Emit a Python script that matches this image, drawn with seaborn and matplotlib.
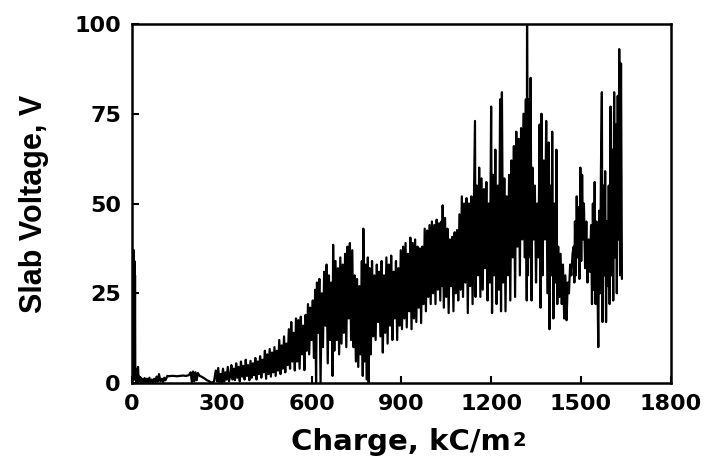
import matplotlib
matplotlib.use("Agg")
import matplotlib.pyplot as plt
import pandas as pd
import seaborn as sns

# values (charge in kC/m2, slab voltage in V)
charge_low = [0, 2, 3, 4, 5, 6, 7, 8, 9, 10,
              11, 12, 14, 16, 18, 20, 22, 24, 26, 28,
              30, 34, 38, 42, 46, 50, 54, 58, 62, 66,
              70, 74, 78, 82, 86, 90, 95, 100, 104, 108,
              112, 118, 124, 130, 140, 150, 160, 170, 180, 190,
              196, 200, 204, 208, 212, 216, 220, 226, 232, 238,
              244, 250, 256, 262, 268, 274,
              280, 284, 288, 292, 296, 300, 304, 308, 312, 316,
              320, 324, 328, 332, 336, 340, 344, 348, 352, 356,
              360, 364, 368, 372, 376, 380, 384, 388, 392, 396,
              400, 404, 408, 412, 416, 420, 424, 428, 432, 436,
              440, 444, 448, 452, 456, 460, 464, 468, 472, 476,
              480, 484, 488, 492, 496, 500, 504, 508, 512, 516,
              520, 524, 528, 532, 536, 540]
volt_low = [0, 37, 1, 36, 2, 37, 1, 34, 2, 30,
            1, 4, 0.5, 1.5, 0.5, 4.5, 1, 1.8, 0.4, 1.6,
            0.3, 1.2, 0.2, 1.4, 0.3, 1.2, 0.2, 1.5, 0.3, 1.0,
            0.2, 1.2, 0.3, 1.8, 0.4, 2.5, 0.5, 1.2, 0.3, 1.5,
            0.8, 2.0, 1.9, 2.0, 2.0, 1.9, 2.0, 2.1, 2.0, 2.2,
            3.0, 0.3, 3.2, 0.5, 3.0, 0.8, 2.8, 2.0, 1.8, 1.5,
            1.2, 0.8, 0.6, 0.3, 0.1, 0.5,
            3.5, 0.5, 4.2, 0.3, 2.5, 0.8, 4.0, 0.4, 3.0, 1.0,
            4.5, 0.5, 2.0, 5.0, 1.0, 4.0, 0.8, 5.5, 1.5, 4.5,
            0.5, 6.0, 1.8, 4.8, 1.0, 6.5, 2.0, 5.0, 0.8, 6.2,
            1.5, 5.5, 2.2, 7.0, 1.0, 6.0, 2.5, 7.5, 1.5, 6.5,
            3.0, 9.0, 1.2, 8.0, 2.5, 9.5, 1.8, 8.5, 3.0, 10.0,
            2.0, 9.0, 3.5, 12.0, 2.5, 10.5, 4.0, 13.0, 3.0, 11.0,
            5.0, 15.0, 4.0, 17.0, 6.0, 14.0]

charge_rise = [544, 548, 552, 556, 560, 564, 568, 572, 576, 580,
               584, 588, 592, 596, 600, 604, 608, 612, 615, 618,
               622, 626, 630, 634, 638, 642, 646, 650, 654, 658,
               662, 666, 670, 672, 676, 680, 684, 688, 692, 696,
               700, 704, 708, 712, 716, 720, 724, 728, 732, 736,
               740, 744, 748, 752, 756, 760, 764, 768, 771, 773,
               776, 780, 784, 788, 791, 794, 798, 802, 806,
               810, 814, 818, 822, 826, 830, 834, 838, 842, 846,
               850, 854, 858, 862, 866, 870, 874, 878, 882, 886,
               890, 894, 898, 902, 906, 910, 914, 918, 922, 926,
               930, 934, 938, 942, 946, 950, 954, 958, 962, 966,
               970, 974, 978, 982, 986, 990, 994, 998, 1002, 1006,
               1010, 1014, 1018, 1022, 1026, 1030, 1034, 1036, 1038, 1042,
               1046, 1050, 1054, 1058, 1062, 1066, 1070, 1074, 1078, 1082,
               1086, 1090, 1094, 1098, 1102, 1106, 1110, 1114, 1118, 1122,
               1126, 1130, 1134, 1138]
volt_rise = [3.5, 18.0, 6.0, 17.5, 4.0, 18.5, 8.0, 16.0, 3.6, 19.0,
             9.0, 22.0, 8.0, 21.0, 12.0, 23.0, 7.0, 26.0, 0.0, 28.0,
             14.0, 29.0, 0.0, 25.0, 10.0, 31.0, 16.0, 33.0, 5.5, 30.0,
             12.0, 28.0, 2.0, 38.5, 9.0, 34.0, 12.0, 32.0, 8.0, 35.0,
             11.0, 33.0, 14.0, 36.0, 10.0, 38.0, 18.0, 39.0, 12.0, 37.0,
             10.0, 30.0, 6.0, 29.0, 4.5, 27.0, 8.0, 34.0, 2.0, 43.0,
             6.0, 33.0, 1.0, 35.0, 0.0, 32.0, 8.0, 34.0, 13.0,
             30.0, 12.0, 33.0, 17.0, 31.0, 13.0, 34.0, 8.5, 30.0, 14.0,
             35.0, 11.0, 33.0, 16.0, 35.5, 12.0, 31.0, 18.0, 34.0, 12.0,
             32.0, 16.0, 37.0, 15.0, 38.0, 18.0, 39.0, 15.5, 36.0, 20.0,
             40.5, 15.0, 39.0, 18.0, 40.0, 17.0, 38.0, 21.0, 37.5, 16.7,
             38.0, 22.0, 43.0, 20.0, 42.5, 24.0, 44.0, 22.0, 45.0, 25.0,
             44.0, 22.0, 45.5, 26.0, 44.5, 23.0, 45.0, 27.0, 49.5, 21.0,
             46.0, 24.0, 43.0, 19.5, 40.0, 27.0, 40.7, 20.0, 42.0, 25.0,
             42.6, 23.0, 47.0, 26.0, 52.0, 24.0, 50.0, 28.0, 51.5, 19.5,
             50.0, 27.0, 52.0, 22.0]

charge_peak = [1142, 1146, 1148, 1152, 1156, 1160, 1164, 1168, 1172, 1176,
               1180, 1184, 1188, 1192, 1196, 1200, 1203, 1206, 1210, 1214,
               1218, 1222, 1226, 1230, 1233, 1236, 1240, 1244, 1248, 1252,
               1256, 1260, 1264, 1268, 1272, 1276, 1280, 1284, 1288, 1292,
               1296, 1300, 1304, 1308, 1312, 1316, 1319, 1320, 1323, 1326,
               1330, 1332, 1335, 1338, 1342, 1346, 1350, 1354, 1358, 1362,
               1365, 1368, 1372, 1376, 1380, 1384, 1388, 1392, 1395, 1398,
               1402, 1404, 1408, 1412, 1416, 1418, 1421]
volt_peak = [48.0, 73.0, 24.0, 55.0, 30.0, 60.0, 24.0, 57.0, 26.0, 54.0,
             32.0, 56.0, 23.0, 50.0, 28.0, 77.0, 19.5, 58.0, 30.0, 65.0,
             22.0, 55.0, 26.0, 79.0, 20.0, 81.0, 28.0, 57.0, 20.0, 52.0,
             30.0, 58.0, 23.0, 62.0, 35.0, 66.0, 24.0, 70.0, 38.0, 68.0,
             30.0, 71.0, 40.0, 75.0, 35.0, 79.0, 23.0, 100.0, 30.0, 79.0,
             35.0, 85.0, 23.0, 60.0, 40.0, 55.0, 28.0, 50.0, 35.0, 72.0,
             21.0, 75.0, 30.0, 62.0, 40.0, 73.0, 25.0, 67.0, 15.0, 55.0,
             30.0, 70.0, 18.0, 50.0, 28.0, 65.0, 22.0]

charge_tail = [1424, 1428, 1432, 1436, 1440, 1444, 1448, 1452, 1456, 1460,
               1464, 1468, 1472, 1476, 1478, 1480, 1483, 1486, 1489, 1492,
               1495, 1498, 1501, 1504, 1507, 1510, 1514, 1518, 1522, 1526,
               1530, 1534,
               1537, 1540, 1543, 1546, 1549, 1552, 1555, 1558, 1561, 1564,
               1567, 1570, 1572, 1575, 1578, 1581, 1584, 1587, 1590, 1593,
               1596, 1599, 1602, 1605, 1608, 1611, 1614, 1617, 1620, 1623,
               1626, 1628, 1631, 1634, 1637]
volt_tail = [38.0, 24.0, 36.0, 22.0, 33.0, 18.0, 30.0, 17.5, 28.0, 25.0,
             33.0, 30.0, 36.0, 38.0, 28.0, 45.0, 30.0, 52.0, 35.0, 49.0,
             29.0, 60.0, 34.0, 58.0, 40.0, 50.0, 32.0, 45.0, 28.0, 40.0,
             31.0, 44.0,
             22.0, 50.0, 26.0, 56.0, 22.0, 45.0, 30.0, 10.0, 48.0, 25.0,
             60.0, 81.0, 17.0, 55.0, 30.0, 59.0, 17.0, 45.0, 27.0, 55.0,
             22.0, 77.0, 30.0, 65.0, 23.0, 81.0, 35.0, 72.0, 25.0, 80.0,
             40.0, 93.0, 30.0, 89.0, 29.0]

x_ticks = [0, 300, 600, 900, 1200, 1500, 1800]
y_ticks = [0, 25, 50, 75, 100]

df = pd.DataFrame({
    'charge': charge_low + charge_rise + charge_peak + charge_tail,
    'voltage': volt_low + volt_rise + volt_peak + volt_tail,
})

sns.set_style('ticks')
plt.rcParams['font.family'] = ['DejaVu Sans']
plt.rcParams['font.weight'] = 'bold'
for key in ['text.color', 'axes.labelcolor', 'xtick.color', 'ytick.color', 'axes.edgecolor']:
    plt.rcParams[key] = 'black'

fig, ax = plt.subplots(figsize=(7.06, 4.61), dpi=100)
fig.subplots_adjust(left=0.187, right=0.950, bottom=0.169, top=0.948)

sns.lineplot(data=df, x='charge', y='voltage', sort=False, estimator=None,
             color='black', linewidth=1.6, ax=ax)

ax.set_xlim(0, 1800)
ax.set_ylim(0, 100)
ax.set_xticks(x_ticks)
ax.set_yticks(y_ticks)
ax.tick_params(direction='in', length=5, width=1.5, labelsize=16, pad=8)
for s in ax.spines.values():
    s.set_linewidth(1.8)

ax.set_xlabel('Charge, kC/m', fontsize=21, fontweight='bold', labelpad=10)
ax.set_ylabel('Slab Voltage, V', fontsize=22, fontweight='bold', labelpad=18,
              family='Liberation Sans')
# small "2" after the unit, as in the original label
ax.annotate('2', xy=(1, 0.2), xycoords=ax.xaxis.label, xytext=(1, 0),
            textcoords='offset points', fontsize=14, fontweight='bold',
            va='bottom', ha='left')

fig.savefig('out.png', dpi=100)
